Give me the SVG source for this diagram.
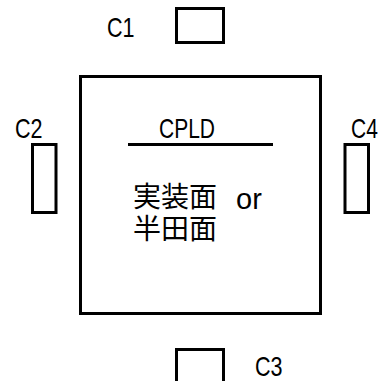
<svg xmlns="http://www.w3.org/2000/svg" width="380" height="381" viewBox="0 0 380 381">
<style>
.box{fill:none;stroke:#000;stroke-width:3}
.lbl{font-family:"Liberation Sans",Arial,sans-serif;font-size:28px;fill:#000}
.jp{font-family:"Noto Sans CJK JP","Noto Sans CJK SC",sans-serif;font-size:28px;fill:#000}
.lat{font-family:"Liberation Sans",Arial,sans-serif;font-size:29px}
</style>
<rect width="380" height="381" fill="#fff"/>
<g id="cpld">
<rect class="box" x="80.5" y="76.5" width="240" height="237"/>
<text class="lbl" transform="translate(159,138) scale(0.75,1)">CPLD</text>
<line x1="128" y1="144.5" x2="273" y2="144.5" stroke="#000" stroke-width="3"/>
<text class="jp" x="133" y="207">実装面<tspan class="lat" x="236" y="209">or</tspan><tspan x="133" y="239">半田面</tspan></text>
</g>
<g id="c1">
<rect class="box" x="176.5" y="8.5" width="47" height="34"/>
<text class="lbl" transform="translate(107,37) scale(0.77,1)">C1</text>
</g>
<g id="c2">
<rect class="box" x="32.5" y="144.5" width="23.5" height="68"/>
<text class="lbl" transform="translate(15,138) scale(0.77,1)">C2</text>
</g>
<g id="c4">
<rect class="box" x="345" y="144.5" width="23.5" height="68"/>
<text class="lbl" transform="translate(351,138) scale(0.75,1)">C4</text>
</g>
<g id="c3">
<rect class="box" x="176.5" y="349.5" width="47" height="40"/>
<text class="lbl" transform="translate(255,375.5) scale(0.77,1)">C3</text>
</g>
<g id="connectors"></g>
</svg>
